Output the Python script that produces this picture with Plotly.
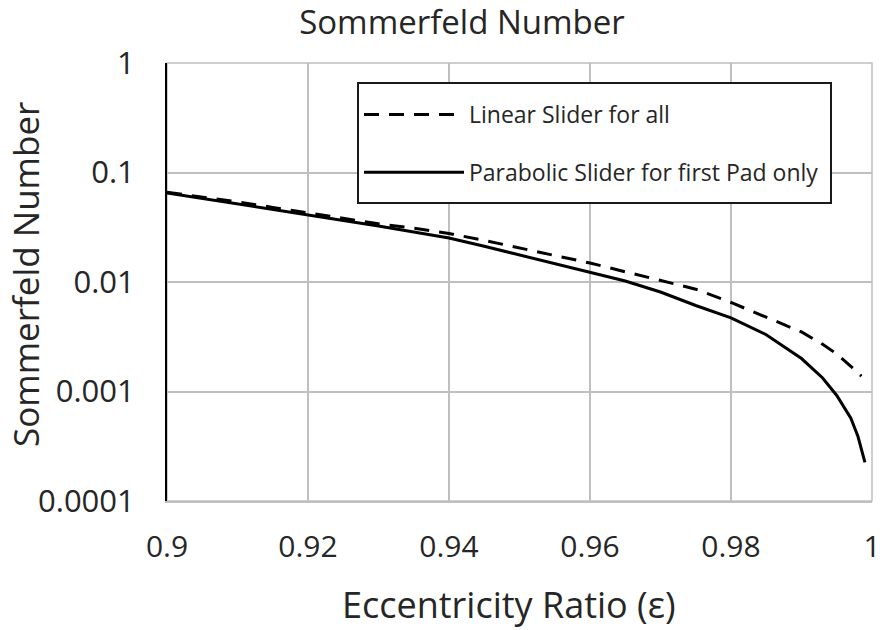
import plotly.graph_objects as go

# eccentricity ratio (x) and Sommerfeld number
eps_parabolic = [0.900, 0.905, 0.910, 0.915, 0.920, 0.925, 0.930, 0.935, 0.940, 0.945,
                 0.950, 0.955, 0.960, 0.965, 0.970, 0.975, 0.980, 0.985, 0.990, 0.993,
                 0.995, 0.997, 0.998, 0.999]
parabolic_slider = [0.065, 0.058, 0.052, 0.0465, 0.041, 0.0365, 0.0325, 0.0287, 0.0252, 0.0212,
                    0.0177, 0.0148, 0.0123, 0.0102, 0.0081, 0.0061, 0.0047, 0.0033, 0.0020, 0.00133,
                    0.00092, 0.00057, 0.00039, 0.000225]

eps_linear = [0.900, 0.905, 0.910, 0.915, 0.920, 0.925, 0.930, 0.935, 0.940, 0.945,
              0.950, 0.955, 0.960, 0.965, 0.970, 0.975, 0.980, 0.985, 0.990, 0.993,
              0.995, 0.997, 0.998, 0.9985]
linear_slider = [0.066, 0.060, 0.054, 0.048, 0.0427, 0.038, 0.034, 0.031, 0.0277, 0.0240,
                 0.0205, 0.0175, 0.0149, 0.0124, 0.0104, 0.0086, 0.0065, 0.0048, 0.0035, 0.0027,
                 0.0022, 0.0017, 0.00148, 0.00138]

x_ticks = [0.9, 0.92, 0.94, 0.96, 0.98, 1.0]
x_labels = ['0.9', '0.92', '0.94', '0.96', '0.98', '1']
y_ticks = [1, 0.1, 0.01, 0.001, 0.0001]
y_labels = ['1', '0.1', '0.01', '0.001', '0.0001']

FONT = 'Open Sans'
TXT = '#262626'
GRID = '#bfbfbf'

W, H = 885, 630
L, R, T, B = 167, 13, 63, 129
PW, PH = W - L - R, H - T - B


def px_x(fx):
    return (fx - L) / PW


def px_y(fy):
    return (H - B - fy) / PH


fig = go.Figure()
fig.add_trace(go.Scatter(x=eps_linear, y=linear_slider, mode='lines',
                         name='Linear Slider for all', legendgroup='a',
                         line=dict(color='black', width=3, dash='15px,10px')))
fig.add_trace(go.Scatter(x=eps_parabolic, y=parabolic_slider, mode='lines',
                         name='Parabolic Slider for first Pad only', legendgroup='b',
                         line=dict(color='black', width=3)))

fig.update_layout(
    width=W, height=H,
    margin=dict(l=L, r=R, t=T, b=B),
    plot_bgcolor='white', paper_bgcolor='white',
    font=dict(family=FONT, color=TXT),
    title=dict(text='Sommerfeld Number', x=462 / W, xanchor='center',
               y=1 - 22 / H, yanchor='middle',
               font=dict(size=33, family=FONT, color=TXT)),
    legend=dict(x=px_x(359), y=px_y(93), xanchor='left', yanchor='top',
                borderwidth=0, bgcolor='rgba(0,0,0,0)',
                font=dict(size=23, family=FONT, color=TXT),
                tracegroupgap=25, itemwidth=100),
    showlegend=True,
)
fig.update_xaxes(range=[0.9, 1.0], tickvals=x_ticks, ticktext=x_labels,
                 showgrid=True, gridcolor=GRID, gridwidth=1.5,
                 showline=True, linecolor=GRID, linewidth=1.5,
                 ticks='', ticklabelstandoff=18, zeroline=False, automargin=False,
                 tickfont=dict(size=30, family=FONT, color=TXT))
fig.update_yaxes(type='log', range=[-4, 0], tickvals=y_ticks, ticktext=y_labels,
                 showgrid=True, gridcolor=GRID, gridwidth=1.5,
                 showline=True, linecolor='black', linewidth=2,
                 ticks='', ticklabelstandoff=24, zeroline=False, automargin=False,
                 tickfont=dict(size=31, family=FONT, color=TXT))

# axis titles
fig.add_annotation(text='Eccentricity Ratio (ε)', xref='paper', yref='paper',
                   x=px_x(509), y=px_y(604), xanchor='center', yanchor='middle',
                   showarrow=False, font=dict(size=36, family=FONT, color=TXT))
fig.add_annotation(text='Sommerfeld Number', xref='paper', yref='paper',
                   x=px_x(25), y=px_y(275), xanchor='center', yanchor='middle',
                   textangle=-90, showarrow=False,
                   font=dict(size=35, family=FONT, color=TXT))

# gray top/right frame
fig.add_shape(type='rect', xref='paper', yref='paper', x0=0, x1=1, y0=0, y1=1,
              line=dict(color=GRID, width=1.5), layer='below')
# legend box
fig.add_shape(type='rect', xref='paper', yref='paper',
              x0=px_x(358), x1=px_x(831), y0=px_y(203), y1=px_y(83),
              line=dict(color='#1a1a1a', width=2), fillcolor='white', layer='above')

# drop the default 8px body margin so the figure fills the window
fig.write_html("out.html", config={'displayModeBar': False},
               post_script="document.body.style.margin = '0';")
